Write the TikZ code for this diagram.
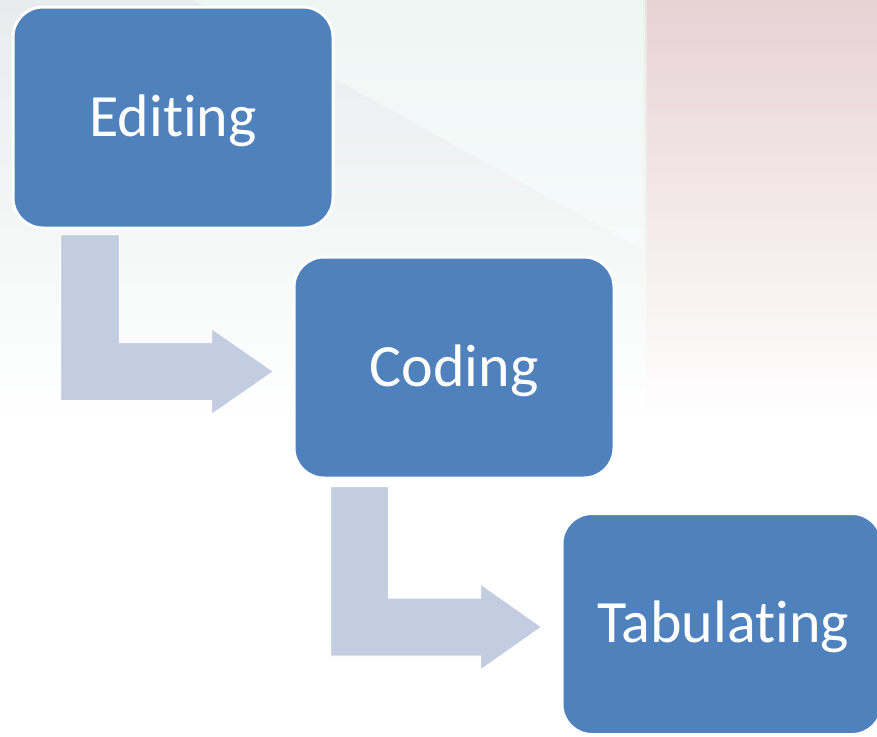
\documentclass[tikz,border=0pt]{standalone}
\usepackage{fontspec}
\setmainfont{Carlito}[RawFeature={-liga;-clig;-calt;-dlig}]
\usetikzlibrary{calc}

\definecolor{stepblue}{HTML}{4F81BD}
\definecolor{flowgrey}{HTML}{C3CDE1}
\definecolor{bgleft}{HTML}{E8ECEC}
\definecolor{bglight}{HTML}{EEF6F4}
\definecolor{bglightlow}{HTML}{F6FBFA}
\definecolor{bgpink}{HTML}{E7D2D4}

\tikzset{
  stepbox/.style={draw=white, line width=3pt, fill=stepblue, rounded corners=30pt,
    minimum width=320pt, minimum height=221pt, inner sep=0pt},
  steplabel/.style={text=white, font=\fontsize{60}{72}\selectfont, inner sep=0pt},
  flow/.style={fill=flowgrey, draw=white, line width=1pt, line join=miter}
}

\begin{document}
\begin{tikzpicture}[x=1pt,y=-1pt]
  \useasboundingbox (0,0) rectangle (877,736);
  \fill[white] (0,0) rectangle (877,736);

  % soft backdrop panels
  \shade[top color=bgleft, bottom color=white] (0,0) rectangle (645,420);
  \shade[top color=bglight, bottom color=bglightlow] (193,0) -- (645,0) -- (645,251) -- cycle;
  \shade[top color=bgpink, bottom color=white] (645,0) rectangle (877,420);
  \shade[top color=black!7, bottom color=white, opacity=0.6] (643,0) rectangle (647,420);

  % process steps
  \node[stepbox] (e) at (173,117.5) {};
  \node[stepbox] (c) at (454,367.5) {};
  \node[stepbox] (t) at (722,624) {};
  \node[steplabel] at ($(e)+(0,3)$) {Editing};
  \node[steplabel] at ($(c)+(0,3)$) {Coding};
  \node[steplabel] at ($(t)+(1,3)$) {Tabulating};

  % bent arrows between steps
  \coordinate (s1) at ($(e.south west)+(49,5)$);
  \coordinate (t1) at ($(c.west)+(-19,4)$);
  \draw[flow] (s1) -- ++(59,0) |- ($(t1)+(-62,-29)$) -- ++(0,-14) -- (t1)
    -- ++(-62,43) -- ++(0,-14) -| (s1) -- cycle;

  \coordinate (s2) at ($(c.south west)+(38,7)$);
  \coordinate (t2) at ($(t.west)+(-19,3)$);
  \draw[flow] (s2) -- ++(58,0) |- ($(t2)+(-61,-29)$) -- ++(0,-14) -- (t2)
    -- ++(-61,43) -- ++(0,-14) -| (s2) -- cycle;
\end{tikzpicture}
\end{document}
